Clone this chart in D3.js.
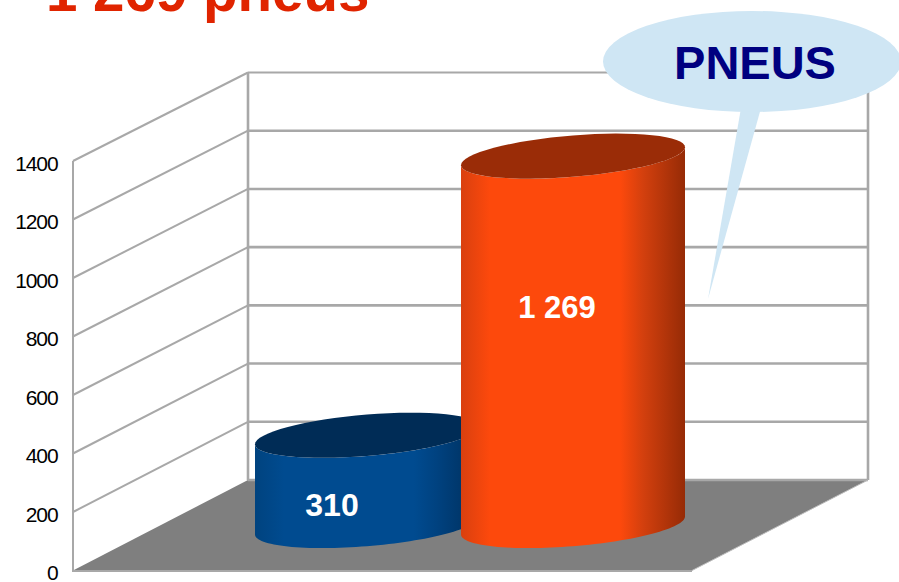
<!DOCTYPE html>
<html><head><meta charset="utf-8">
<style>html,body{margin:0;padding:0;background:#fff;overflow:hidden}svg{display:block}text{font-family:"Liberation Sans",Arial,sans-serif}</style>
<script src="https://cdn.jsdelivr.net/npm/d3@7"></script>
</head><body><svg id="c" width="899" height="582"></svg>
<script>
const categories = ["A", "B"];
const values = [310, 1269];
const valueLabels = ["310", "1 269"];
const barColors = [
  {edge:"#00437f", main:"#004b90", shade:"#004280", dark:"#002f5c", top:"#002c56"},
  {edge:"#d9400f", main:"#fd490c", shade:"#d4400e", dark:"#962b06", top:"#9a2c07"}
];
const ticks = [0,200,400,600,800,1000,1200,1400];
const titleText = "1 269 pneus";
const calloutText = "PNEUS";

const svg = d3.select("#c");
const back = {xL:248, xR:868, y0:480, y1:72.5};
const front = {xL:73, xR:692, y0:570.5, y1:161};
const yBack = d3.scaleLinear().domain([0,1400]).range([back.y0, back.y1]);
const yFront = d3.scaleLinear().domain([0,1400]).range([front.y0, front.y1]);
const grid = "#a8a8a8";

// Floor
svg.append("path")
  .attr("d", d3.line()([[front.xL,front.y0],[back.xL,back.y0],[back.xR,back.y0],[front.xR,front.y0]]))
  .attr("fill","#7f7f7f");

// Side-wall and back-wall grid
svg.selectAll("line.side").data(ticks.slice(1)).join("line")
  .attr("x1",front.xL).attr("x2",back.xL)
  .attr("y1",d=>yFront(d)).attr("y2",d=>yBack(d))
  .attr("stroke",grid).attr("stroke-width",2);
svg.selectAll("line.back").data(ticks).join("line")
  .attr("x1",back.xL).attr("x2",back.xR)
  .attr("y1",d=>yBack(d)).attr("y2",d=>yBack(d))
  .attr("stroke",grid).attr("stroke-width",d=>d===1400?1.8:2.6);
svg.append("line").attr("x1",back.xL).attr("x2",back.xL).attr("y1",back.y1).attr("y2",back.y0).attr("stroke",grid).attr("stroke-width",2.6);
svg.append("line").attr("x1",back.xR).attr("x2",back.xR).attr("y1",back.y1).attr("y2",back.y0).attr("stroke",grid).attr("stroke-width",2.6);
svg.append("line").attr("x1",front.xL).attr("x2",front.xL).attr("y1",front.y1).attr("y2",front.y0+1).attr("stroke",grid).attr("stroke-width",2);
svg.append("line").attr("x1",front.xL-1).attr("x2",front.xR).attr("y1",front.y0+0.5).attr("y2",front.y0+0.5).attr("stroke",grid).attr("stroke-width",2.2);
svg.append("line").attr("x1",front.xR).attr("x2",back.xR).attr("y1",front.y0).attr("y2",back.y0).attr("stroke","#bdbdbd").attr("stroke-width",1);

// Axis labels
const axis = d3.axisLeft(yFront).tickValues(ticks).tickSize(0).tickPadding(0).tickFormat(d3.format("d"));
const ag = svg.append("g").attr("transform","translate(57.5,2.5)").call(axis);
ag.select(".domain").remove();
ag.selectAll("text").attr("fill","#000").style("font-size","21px").style("letter-spacing","-1.1px")
  .style("font-family",'"Liberation Sans",Arial,sans-serif');

// Cylinders
const cx = d3.scaleBand().domain(categories).range([255,685]).paddingInner(-0.0874);
const h = d3.scaleLinear().domain([0,1400]).range([0, back.y0-back.y1]);
const defs = svg.append("defs");
const baseY = 525.5, skew = -9/112, ry = 20.7;
const line = d3.line();
const pts = (c,a,y,t0,t1) => d3.range(0,65).map(i=>{
  const t = t0+(t1-t0)*i/64;
  return [c+a*Math.cos(t), y+ry*Math.sin(t)+skew*a*Math.cos(t)];
});
categories.forEach((cat,i)=>{
  const col = barColors[i];
  const a = cx.bandwidth()/2, c = cx(cat)+a, topY = baseY-h(values[i]);
  const g = defs.append("linearGradient").attr("id","g"+i).attr("x1","0").attr("x2","1").attr("y1","0").attr("y2","0");
  [[0,col.edge],[0.13,col.main],[0.71,col.main],[0.81,col.shade],[1,col.dark]]
    .forEach(s=>g.append("stop").attr("offset",s[0]).attr("stop-color",s[1]));
  const outline = pts(c,a,baseY,0,Math.PI).concat(pts(c,a,topY,Math.PI,0));
  svg.append("path").attr("d",line(outline)+"Z").attr("fill",`url(#g${i})`);
  svg.append("path").attr("d",line(pts(c,a,topY,0,2*Math.PI))+"Z").attr("fill",col.top);
  svg.append("text").attr("x",i?557:332).attr("y",i?307:504).attr("dy","0.36em")
    .attr("text-anchor","middle").attr("fill","#fff").attr("font-weight","bold").attr("font-size",i?31:32)
    .text(valueLabels[i]);
});

// Callout
svg.append("path").attr("d",line([[741,108],[761,108],[708,299]])+"Z").attr("fill","#cfe6f4");
svg.append("ellipse").attr("cx",752).attr("cy",61.5).attr("rx",149).attr("ry",50.5).attr("fill","#cfe6f4");
svg.append("text").attr("x",755).attr("y",79).attr("text-anchor","middle").attr("fill","#000080")
  .attr("font-weight","bold").attr("font-size",47).text(calloutText);

// Title (cropped by the top edge)
svg.append("text").attr("x",46).attr("y",10.5).attr("fill","#e02400").attr("font-weight","bold").attr("font-size",56.5).text(titleText);
</script></body></html>
